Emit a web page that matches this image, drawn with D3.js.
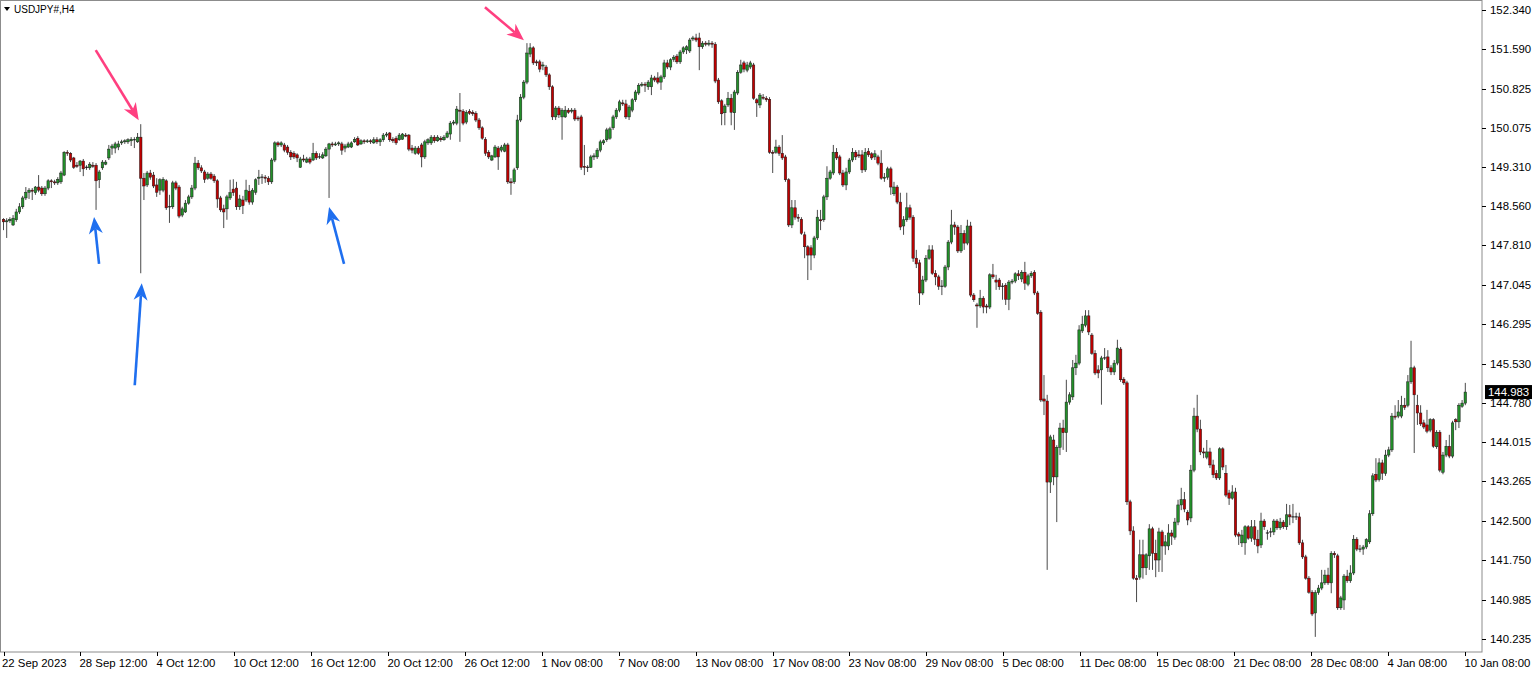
<!DOCTYPE html>
<html>
<head>
<meta charset="utf-8">
<script src="https://cdn.jsdelivr.net/npm/d3@7"></script>
<style>
  body { margin: 0; background: #fff; }
  svg { display: block; }
  text { font-family: "Liberation Sans", Arial, sans-serif; font-size: 11.4px; fill: #000; }
</style>
</head>
<body>
<svg id="chart" width="1536" height="673"></svg>
<script>
// Chart title
const symbolLabel = "USDJPY#,H4";

// Price scale labels on the right
const priceTicks = [152.340, 151.590, 150.825, 150.075, 149.310, 148.560, 147.810, 147.045,
  146.295, 145.530, 144.780, 144.015, 143.265, 142.500, 141.750, 140.985, 140.235];

// Time scale labels, one every 24 bars
const dateLabels = ["22 Sep 2023", "28 Sep 12:00", "4 Oct 12:00", "10 Oct 12:00", "16 Oct 12:00",
  "20 Oct 12:00", "26 Oct 12:00", "1 Nov 08:00", "7 Nov 08:00", "13 Nov 08:00", "17 Nov 08:00",
  "23 Nov 08:00", "29 Nov 08:00", "5 Dec 08:00", "11 Dec 08:00", "15 Dec 08:00", "21 Dec 08:00",
  "28 Dec 08:00", "4 Jan 08:00", "10 Jan 08:00"];
const barsPerLabel = 24;

const lastPrice = 144.983;

// H4 bars: [open, high, low, close]
const bars = [
[148.31,148.33,148.10,148.26],[148.26,148.33,147.95,148.28],[148.28,148.35,148.24,148.31],[148.20,148.39,148.18,148.33],
[148.30,148.51,148.26,148.45],[148.45,148.62,148.41,148.55],[148.55,148.76,148.51,148.72],[148.72,148.93,148.68,148.83],
[148.83,148.91,148.70,148.87],[148.87,148.91,148.68,148.85],[148.82,148.95,148.78,148.93],[148.93,149.16,148.83,148.87],
[148.91,148.95,148.76,148.80],[148.80,148.95,148.76,148.91],[148.91,149.08,148.87,149.05],[149.05,149.08,148.91,149.03],
[149.03,149.07,148.97,149.01],[149.01,149.12,148.97,149.08],[149.03,149.24,148.99,149.20],[149.16,149.62,149.14,149.60],
[149.60,149.64,149.53,149.58],[149.58,149.60,149.41,149.45],[149.49,149.51,149.28,149.31],[149.35,149.41,149.30,149.33],
[149.35,149.45,149.22,149.43],[149.43,149.47,149.14,149.28],[149.30,149.35,149.26,149.31],[149.30,149.41,149.26,149.37],
[149.35,149.41,149.30,149.33],[149.35,149.39,148.49,149.05],[149.07,149.26,148.91,149.22],[149.30,149.45,149.26,149.41],
[149.37,149.45,149.35,149.41],[149.49,149.74,149.45,149.66],[149.68,149.76,149.55,149.72],[149.68,149.80,149.58,149.76],
[149.70,149.82,149.64,149.76],[149.78,149.84,149.74,149.80],[149.80,149.85,149.76,149.82],[149.80,149.87,149.76,149.84],
[149.82,149.89,149.72,149.85],[149.84,149.89,149.68,149.83],[149.80,149.97,149.78,149.89],[149.89,150.14,147.27,149.10],
[149.10,149.20,148.68,148.95],[148.97,149.24,148.93,149.20],[149.20,149.26,149.07,149.12],[149.16,149.22,148.91,148.95],
[148.97,149.10,148.74,148.83],[148.87,149.10,148.78,149.07],[148.87,149.12,148.83,149.08],[149.05,149.08,148.49,148.53],
[148.55,148.78,148.24,148.54],[148.55,149.05,148.51,149.01],[149.01,149.05,148.87,148.91],[148.93,148.97,148.33,148.37],
[148.39,148.55,148.35,148.51],[148.45,148.68,148.43,148.62],[148.62,148.78,148.59,148.74],[148.74,148.97,148.70,148.91],
[148.91,149.51,148.87,149.39],[149.39,149.45,149.26,149.30],[149.30,149.35,149.20,149.24],[149.22,149.26,149.01,149.08],
[149.10,149.22,149.07,149.18],[149.18,149.22,149.07,149.10],[149.14,149.18,149.01,149.05],[149.05,149.08,148.53,148.70],
[148.72,148.76,148.45,148.49],[148.51,148.59,148.14,148.45],[148.51,148.78,148.30,148.74],[148.72,149.07,148.68,148.82],
[148.89,149.08,148.76,148.82],[148.91,149.03,148.49,148.55],[148.55,148.78,148.49,148.70],[148.68,148.76,148.41,148.57],
[148.68,149.07,148.64,148.87],[148.85,148.97,148.59,148.64],[148.64,148.91,148.59,148.87],[148.83,149.10,148.78,149.07],
[149.10,149.26,148.97,149.12],[149.12,149.18,148.99,149.11],[149.12,149.16,149.01,149.10],[149.10,149.14,148.97,149.03],
[149.03,149.49,148.99,149.45],[149.45,149.81,149.41,149.78],[149.78,149.81,149.70,149.74],[149.74,149.81,149.70,149.78],
[149.74,149.78,149.60,149.64],[149.70,149.74,149.55,149.60],[149.60,149.64,149.45,149.51],[149.58,149.62,149.47,149.51],
[149.55,149.58,149.41,149.49],[149.31,149.51,149.30,149.47],[149.47,149.55,149.41,149.45],[149.41,149.51,149.39,149.47],
[149.47,149.51,149.37,149.41],[149.45,149.78,149.43,149.58],[149.58,149.62,149.45,149.49],[149.51,149.58,149.47,149.50],
[149.49,149.60,149.47,149.55],[149.53,149.70,149.51,149.66],[149.66,149.78,148.72,149.76],[149.76,149.80,149.70,149.74],
[149.74,149.80,149.72,149.76],[149.76,149.81,149.72,149.78],[149.76,149.80,149.55,149.64],[149.68,149.76,149.60,149.72],
[149.70,149.80,149.68,149.76],[149.70,149.81,149.68,149.78],[149.80,149.89,149.78,149.85],[149.87,149.91,149.72,149.74],
[149.76,149.85,149.74,149.82],[149.82,149.85,149.76,149.80],[149.80,149.85,149.78,149.82],[149.82,149.85,149.76,149.80],
[149.78,149.89,149.76,149.84],[149.84,149.89,149.76,149.80],[149.80,149.87,149.72,149.84],[149.84,149.97,149.80,149.93],
[149.93,149.99,149.89,149.95],[149.97,149.99,149.80,149.84],[149.85,149.89,149.78,149.82],[149.87,149.91,149.74,149.78],
[149.84,149.97,149.82,149.93],[149.85,149.97,149.84,149.95],[149.93,149.97,149.89,149.91],[149.93,149.95,149.62,149.66],
[149.68,149.74,149.58,149.64],[149.58,149.72,149.55,149.68],[149.68,149.72,149.55,149.58],[149.74,149.78,149.31,149.51],
[149.51,149.84,149.47,149.80],[149.78,149.87,149.74,149.84],[149.78,149.93,149.74,149.89],[149.89,149.93,149.78,149.82],
[149.82,149.93,149.80,149.89],[149.87,149.91,149.80,149.84],[149.84,149.93,149.82,149.89],[149.89,150.01,149.87,149.97],
[149.95,150.20,149.84,150.16],[150.16,150.22,150.12,150.18],[150.16,150.49,150.12,150.43],[150.41,150.74,149.80,150.39],
[150.39,150.43,150.12,150.16],[150.18,150.41,150.14,150.37],[150.39,150.43,150.32,150.35],[150.37,150.41,150.30,150.34],
[150.35,150.39,150.18,150.22],[150.22,150.26,150.03,150.07],[150.07,150.10,149.84,149.87],[149.85,149.89,149.53,149.58],
[149.60,149.64,149.47,149.51],[149.45,149.55,149.43,149.53],[149.51,149.74,149.49,149.70],[149.68,149.72,149.26,149.51],
[149.64,149.74,149.60,149.70],[149.62,149.78,149.60,149.74],[149.74,149.78,148.99,149.03],[149.03,149.10,148.78,149.01],
[149.03,149.30,148.99,149.26],[149.30,150.32,149.26,150.22],[150.22,150.72,150.18,150.66],[150.66,150.99,150.62,150.95],
[150.95,151.70,150.91,151.51],[151.49,151.70,151.43,151.61],[151.61,151.64,151.28,151.32],[151.34,151.38,151.26,151.32],
[151.34,151.38,151.14,151.20],[151.26,151.34,151.18,151.28],[151.24,151.28,151.05,151.09],[151.09,151.12,150.80,150.86],
[150.86,150.89,150.22,150.28],[150.28,150.49,150.22,150.45],[150.45,150.49,150.26,150.32],[150.28,150.45,149.84,150.41],
[150.28,150.49,150.26,150.41],[150.41,150.45,150.34,150.37],[150.39,150.45,150.35,150.41],[150.41,150.45,150.20,150.24],
[150.26,150.30,150.20,150.24],[150.28,150.32,149.26,149.31],[149.33,149.74,149.16,149.31],[149.31,149.35,149.22,149.30],
[149.31,149.55,149.30,149.51],[149.51,149.58,149.45,149.53],[149.51,149.68,149.47,149.64],[149.64,149.84,149.60,149.80],
[149.78,149.85,149.74,149.82],[149.84,150.07,149.80,150.03],[149.87,150.09,149.84,150.05],[150.07,150.32,150.03,150.28],
[150.28,150.45,150.24,150.41],[150.41,150.61,150.37,150.57],[150.55,150.61,150.49,150.53],[150.53,150.61,150.24,150.28],
[150.28,150.51,150.22,150.47],[150.41,150.64,150.37,150.61],[150.61,150.80,150.57,150.76],[150.74,150.93,150.70,150.89],
[150.89,150.95,150.86,150.91],[150.91,150.95,150.76,150.89],[150.86,150.99,150.80,150.95],[150.86,151.09,150.70,151.03],
[151.03,151.07,150.95,150.99],[151.03,151.14,150.91,150.95],[150.95,151.09,150.80,151.05],[151.05,151.38,151.01,151.32],
[151.32,151.38,151.20,151.24],[151.24,151.41,151.18,151.38],[151.39,151.47,151.34,151.43],[151.45,151.49,151.30,151.34],
[151.34,151.57,151.30,151.53],[151.53,151.64,151.49,151.61],[151.57,151.66,151.49,151.63],[151.55,151.80,151.51,151.76],
[151.78,151.84,151.74,151.80],[151.80,151.88,151.72,151.76],[151.80,151.90,151.18,151.63],[151.63,151.74,151.59,151.70],
[151.70,151.74,151.64,151.68],[151.68,151.76,151.64,151.70],[151.70,151.74,151.61,151.68],[151.68,151.72,150.93,150.97],
[150.99,151.03,150.53,150.57],[150.59,150.62,150.12,150.34],[150.36,150.53,150.12,150.49],[150.51,150.76,150.47,150.64],
[150.64,150.72,150.12,150.37],[150.36,150.80,150.03,150.76],[150.74,151.18,150.70,151.14],[151.14,151.38,151.11,151.28],
[151.32,151.36,151.14,151.20],[151.18,151.34,151.14,151.28],[151.24,151.36,151.20,151.32],[151.28,151.32,150.61,150.64],
[150.61,150.64,150.28,150.55],[150.51,150.74,150.45,150.70],[150.66,150.72,150.61,150.64],[150.64,150.68,150.57,150.61],
[150.62,150.66,149.57,149.60],[149.60,149.64,149.20,149.58],[149.60,149.84,149.57,149.70],[149.70,149.74,149.53,149.58],
[149.58,149.93,149.45,149.49],[149.51,149.55,149.03,149.07],[149.07,149.10,148.16,148.20],[148.20,148.68,148.14,148.53],
[148.53,148.68,148.30,148.35],[148.35,148.41,148.26,148.33],[148.31,148.35,148.01,148.04],[148.01,148.07,147.56,147.78],
[147.78,147.81,147.14,147.62],[147.76,147.81,147.33,147.62],[147.62,147.99,147.56,147.95],[147.95,148.49,147.91,148.35],
[148.30,148.49,148.10,148.28],[148.30,148.78,148.26,148.74],[148.74,149.33,148.68,149.10],[149.10,149.26,149.07,149.22],
[149.20,149.74,149.16,149.60],[149.60,149.68,149.45,149.49],[149.51,149.55,149.16,149.20],[149.20,149.26,148.93,148.97],
[148.97,149.30,148.87,149.22],[149.22,149.49,149.18,149.45],[149.45,149.68,149.41,149.60],[149.60,149.64,149.45,149.51],
[149.55,149.64,149.49,149.53],[149.55,149.64,149.20,149.26],[149.26,149.68,149.22,149.60],[149.62,149.68,149.51,149.55],
[149.57,149.60,149.45,149.49],[149.51,149.64,149.45,149.57],[149.51,149.55,149.35,149.39],[149.39,149.64,149.07,149.10],
[149.10,149.20,149.03,149.12],[149.12,149.32,149.07,149.28],[149.28,149.32,148.78,148.93],[148.80,149.03,148.76,148.93],
[148.93,148.97,148.60,148.64],[148.64,148.82,148.10,148.16],[148.18,148.37,148.01,148.30],[148.30,148.82,148.26,148.53],
[148.53,148.59,148.30,148.35],[148.35,148.39,147.49,147.56],[147.56,147.72,147.37,147.45],[147.47,147.53,146.66,146.89],
[146.89,147.22,146.85,147.14],[147.14,147.62,147.10,147.56],[147.56,147.81,147.53,147.72],[147.72,147.81,147.24,147.27],
[147.27,147.33,147.04,147.20],[147.20,147.24,146.95,147.02],[147.02,147.14,146.85,147.01],[147.02,147.43,146.99,147.39],
[147.39,147.91,147.33,147.87],[147.87,148.49,147.83,148.20],[148.20,148.26,148.01,148.16],[148.16,148.20,147.66,147.70],
[147.70,148.20,147.66,148.04],[148.04,148.10,147.72,147.85],[147.85,148.30,147.81,148.18],[148.18,148.26,146.81,146.85],
[146.85,146.89,146.72,146.76],[146.66,146.70,146.22,146.64],[146.64,146.95,146.60,146.79],[146.79,146.83,146.50,146.62],
[146.64,146.68,146.50,146.62],[146.62,147.27,146.58,147.24],[147.24,147.45,147.16,147.20],[147.14,147.24,146.95,147.10],
[147.14,147.18,146.95,147.01],[147.01,147.08,146.76,147.02],[147.04,147.08,146.66,146.77],[146.77,147.14,146.56,147.10],
[147.10,147.16,147.06,147.12],[147.12,147.29,147.08,147.26],[147.26,147.33,147.14,147.22],[147.16,147.33,147.10,147.29],
[147.29,147.49,146.95,147.08],[147.06,147.26,147.02,147.22],[147.22,147.31,147.18,147.27],[147.29,147.33,146.85,146.89],
[146.89,146.93,146.47,146.50],[146.52,146.56,144.79,144.83],[144.85,145.31,144.54,144.81],[144.81,144.93,141.56,143.25],
[143.25,144.16,143.04,144.12],[144.06,144.16,143.19,143.35],[143.35,143.96,142.48,143.92],[143.92,144.39,143.77,144.29],
[144.29,144.45,143.87,144.20],[144.20,145.22,143.83,144.79],[144.79,144.98,144.74,144.93],[144.89,145.60,144.83,145.45],
[145.45,145.70,145.31,145.54],[145.54,146.27,145.50,146.18],[146.16,146.45,146.12,146.29],[146.27,146.56,146.23,146.45],
[146.45,146.56,146.08,146.14],[146.08,146.12,145.70,145.73],[145.73,145.79,145.31,145.35],[145.41,145.50,145.25,145.35],
[145.41,145.68,144.74,145.64],[145.64,145.83,145.60,145.63],[145.66,145.79,145.37,145.45],[145.45,145.50,145.31,145.37],
[145.37,145.60,145.31,145.54],[145.54,145.99,145.50,145.83],[145.81,145.85,145.18,145.22],[145.23,145.27,145.12,145.16],
[145.16,145.20,142.81,142.87],[142.87,142.91,142.23,142.31],[142.31,142.40,141.37,141.40],[141.40,141.46,140.94,141.37],
[141.42,142.14,141.37,141.85],[141.85,142.14,141.39,141.60],[141.60,141.88,141.46,141.85],[141.83,142.44,141.56,142.35],
[142.35,142.39,141.56,141.88],[141.88,142.14,141.42,141.75],[141.75,142.37,141.52,142.29],[142.29,142.33,141.52,142.02],
[142.02,142.23,141.85,142.10],[142.02,142.44,141.94,142.27],[142.27,142.33,142.04,142.21],[142.19,142.56,142.14,142.48],
[142.48,142.91,142.42,142.81],[142.81,143.14,142.71,142.91],[142.91,143.06,142.67,142.73],[142.67,142.71,142.42,142.52],
[142.56,143.58,142.48,143.48],[143.48,144.68,143.44,144.52],[144.52,144.93,144.21,144.27],[144.27,144.45,143.77,143.83],
[143.83,143.91,143.71,143.81],[143.73,144.06,143.69,143.83],[143.83,143.91,143.52,143.58],[143.58,143.68,143.33,143.39],
[143.42,143.48,143.29,143.33],[143.33,143.92,143.29,143.89],[143.89,143.92,143.48,143.54],[143.42,143.58,142.96,143.00],
[143.04,143.10,142.81,142.94],[142.94,143.19,142.91,143.06],[143.06,143.14,142.19,142.23],[142.25,142.29,142.04,142.21],
[142.08,142.33,142.00,142.23],[142.08,142.42,141.85,142.39],[142.39,142.42,142.14,142.17],[142.17,142.52,142.10,142.39],
[142.39,142.52,142.04,142.15],[142.15,142.33,141.88,142.02],[142.04,142.66,141.98,142.50],[142.50,142.54,142.33,142.39],
[142.27,142.33,142.14,142.26],[142.29,142.37,142.19,142.28],[142.29,142.54,142.23,142.50],[142.50,142.54,142.33,142.37],
[142.37,142.56,142.33,142.48],[142.48,142.52,142.35,142.39],[142.39,142.83,142.33,142.62],[142.62,142.81,142.42,142.58],
[142.58,142.83,142.46,142.57],[142.57,142.66,142.52,142.58],[142.58,142.66,142.04,142.08],[142.08,142.14,141.77,141.81],
[141.81,141.85,141.37,141.40],[141.40,141.44,141.10,141.13],[141.13,141.17,140.67,140.71],[140.73,141.17,140.27,141.12],
[141.12,141.27,141.08,141.21],[141.21,141.56,141.17,141.31],[141.31,141.56,141.27,141.46],[141.46,141.60,141.27,141.31],
[141.31,141.92,141.11,141.88],[141.88,141.92,141.79,141.85],[141.83,141.87,140.79,140.83],[140.83,141.06,140.79,141.02],
[140.98,141.48,140.79,141.44],[141.44,141.56,141.31,141.35],[141.35,141.65,141.31,141.50],[141.50,142.23,141.46,142.15],
[142.15,142.19,141.92,141.96],[141.96,142.04,141.90,141.95],[141.96,142.04,141.85,142.00],[142.00,142.17,141.96,142.14],
[142.10,142.71,142.06,142.64],[142.64,143.42,142.60,143.37],[143.40,143.71,143.25,143.29],[143.30,143.71,143.26,143.62],
[143.62,143.68,143.29,143.42],[143.42,143.87,143.37,143.77],[143.77,143.93,143.73,143.87],[143.87,144.58,143.83,144.52],
[144.52,144.73,144.45,144.50],[144.52,144.83,144.48,144.60],[144.52,144.91,144.48,144.73],[144.73,144.87,144.64,144.69],
[144.73,145.31,144.69,145.18],[145.18,145.97,145.14,145.45],[145.45,145.49,143.81,144.93],[144.73,144.93,144.35,144.58],
[144.58,144.73,144.33,144.37],[144.39,144.45,144.27,144.31],[144.35,144.64,144.19,144.23],[144.25,144.48,144.21,144.45],
[144.45,144.48,143.91,143.94],[143.93,144.25,143.89,144.21],[144.21,144.25,143.44,143.48],[143.44,143.83,143.40,143.77],
[143.77,144.06,143.73,143.94],[143.94,144.16,143.71,143.75],[143.75,144.43,143.71,144.39],[144.45,144.48,144.25,144.41],
[144.41,144.77,144.29,144.73],[144.71,144.83,144.68,144.77],[144.77,145.16,144.73,144.983]
];

// Annotation arrows, anchored to a bar and a price
const arrows = [
  { bar: 43, price: 150.14, off: [-2, -4], tail: [-43, -70], color: "#ff3f80" },
  { bar: 164, price: 151.70, off: [-3, -3], tail: [-39, -33], color: "#ff3f80" },
  { bar: 29, price: 148.49, off: [-2, 7], tail: [5, 47], color: "#1f6fef" },
  { bar: 43, price: 147.27, off: [1, 10], tail: [-7, 102], color: "#1f6fef" },
  { bar: 102, price: 148.72, off: [0, 9], tail: [15, 57], color: "#1f6fef" }
];

const svg = d3.select("#chart");
const plotRight = 1482, plotBottom = 652;

const x = d3.scaleLinear().domain([0, bars.length - 1]).range([3.5, 1465.3]);
const y = d3.scaleLinear().domain([140.235, 152.340]).range([638.7, 9.9]);

// frame
svg.append("rect")
  .attr("x", 0.5).attr("y", 0.5)
  .attr("width", plotRight - 0.5).attr("height", plotBottom - 0.5)
  .attr("fill", "none").attr("stroke", "#8c8c8c");

// right price scale
const py = svg.append("g");
priceTicks.forEach(p => {
  py.append("line")
    .attr("x1", plotRight).attr("x2", plotRight + 4)
    .attr("y1", Math.round(y(p)) + 0.5).attr("y2", Math.round(y(p)) + 0.5)
    .attr("stroke", "#000");
  py.append("text")
    .attr("x", plotRight + 8).attr("y", y(p) + 4)
    .text(p.toFixed(3));
});

// bottom time scale, label spacing taken from the bar spacing
const step = (x(1) - x(0)) * barsPerLabel;
dateLabels.forEach((d, i) => {
  const xi = Math.round(x(0) + i * step * 1.004) + 0.5;
  svg.append("line")
    .attr("x1", xi).attr("x2", xi)
    .attr("y1", plotBottom).attr("y2", plotBottom + 4)
    .attr("stroke", "#000");
  svg.append("text")
    .attr("x", i === 0 ? 2 : xi - 1).attr("y", plotBottom + 15)
    .text(d);
});

// candles
const g = svg.append("g");
const bw = 2.5;
bars.forEach((b, i) => {
  const [o, h, l, c] = b;
  const cx = x(i);
  g.append("line")
    .attr("x1", cx).attr("x2", cx)
    .attr("y1", y(h)).attr("y2", y(l))
    .attr("stroke", "#4a4a4a").attr("stroke-width", 1);
  const top = y(Math.max(o, c)), bot = y(Math.min(o, c));
  if (bot - top < 0.8) {
    g.append("line")
      .attr("x1", cx - bw / 2 - 0.3).attr("x2", cx + bw / 2 + 0.3)
      .attr("y1", top).attr("y2", top)
      .attr("stroke", "#111").attr("stroke-width", 1);
  } else {
    g.append("rect")
      .attr("x", cx - bw / 2).attr("y", top)
      .attr("width", bw).attr("height", bot - top)
      .attr("fill", c >= o ? "#23902a" : "#c00000")
      .attr("stroke", "#1a1a1a").attr("stroke-width", 0.5);
  }
});

// current price tag
svg.append("rect")
  .attr("x", plotRight + 3).attr("y", y(lastPrice) - 7)
  .attr("width", 47).attr("height", 14)
  .attr("fill", "#000");
svg.append("text")
  .attr("x", plotRight + 6).attr("y", y(lastPrice) + 4)
  .style("fill", "#fff")
  .text(lastPrice.toFixed(3));

// title in the top left corner
svg.append("path").attr("d", "M4,7 L10,7 L7,11 Z").attr("fill", "#000");
svg.append("text").attr("x", 14).attr("y", 13).style("font-size", "10px").text(symbolLabel);

// arrows
const ag = svg.append("g");
arrows.forEach(a => {
  const tx = x(a.bar) + a.off[0], ty = y(a.price) + a.off[1];
  const sx = tx + a.tail[0], sy = ty + a.tail[1];
  const ang = Math.atan2(ty - sy, tx - sx);
  const L = 17, W = 7, notch = 5;
  const cs = Math.cos(ang), sn = Math.sin(ang);
  const bx = tx - L * cs, by = ty - L * sn;
  const nx = tx - (L - notch) * cs, ny = ty - (L - notch) * sn;
  ag.append("line")
    .attr("x1", sx).attr("y1", sy).attr("x2", nx).attr("y2", ny)
    .attr("stroke", a.color).attr("stroke-width", 2.6);
  ag.append("path")
    .attr("d", `M${tx},${ty}L${bx + W * sn},${by - W * cs}L${nx},${ny}L${bx - W * sn},${by + W * cs}Z`)
    .attr("fill", a.color);
});
</script>
</body>
</html>
